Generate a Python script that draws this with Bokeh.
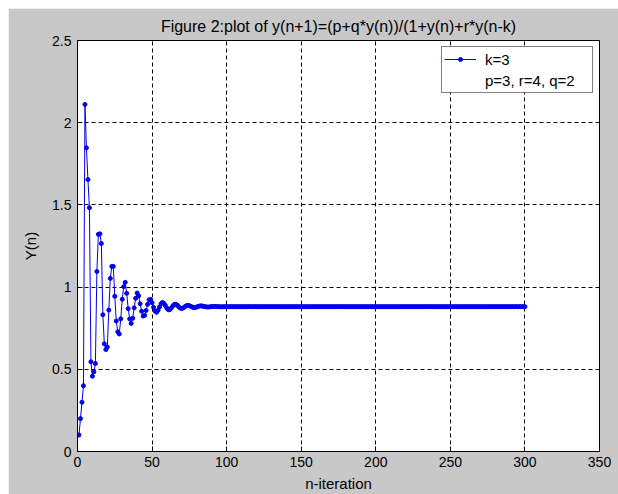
from bokeh.plotting import figure
from bokeh.models import Range1d, Legend, LegendItem, NumeralTickFormatter, ColumnDataSource
from bokeh.embed import file_html
from bokeh.resources import INLINE

title_text = "Figure 2:plot of y(n+1)=(p+q*y(n))/(1+y(n)+r*y(n-k)"
x_ticks = [0, 50, 100, 150, 200, 250, 300, 350]
y_ticks = [0, 0.5, 1, 1.5, 2, 2.5]
legend_labels = ["k=3", "p=3, r=4, q=2"]

n_iter = list(range(1, 301))
y_head = [
    0.100, 0.200, 0.300, 0.400, 2.111, 1.847, 1.654, 1.483, 0.546, 0.458,
    0.485, 0.535, 1.095, 1.321, 1.324, 1.265, 0.832, 0.655, 0.620, 0.635,
    0.860, 1.053, 1.126, 1.126, 0.944, 0.794, 0.728, 0.715, 0.807, 0.926,
    1.003, 1.029, 0.962, 0.869, 0.806, 0.779, 0.810, 0.874, 0.932, 0.964,
    0.947, 0.899, 0.853, 0.824, 0.828, 0.858, 0.895, 0.923, 0.925, 0.905,
    0.877, 0.854, 0.847, 0.859, 0.879, 0.899, 0.907, 0.901, 0.887, 0.871,
    0.862, 0.864, 0.874, 0.886, 0.895, 0.895, 0.889, 0.879, 0.872, 0.870,
    0.874, 0.881, 0.887, 0.889, 0.887, 0.883, 0.878, 0.875, 0.876, 0.879,
    0.883, 0.885, 0.886, 0.884, 0.882, 0.880, 0.879, 0.879, 0.880, 0.882,
    0.882, 0.882, 0.882, 0.881, 0.881, 0.880, 0.880, 0.881, 0.881, 0.881,
]
y_tail = [
    0.881, 0.881, 0.881, 0.881, 0.881, 0.881, 0.881, 0.881, 0.881, 0.881,
    0.881, 0.881, 0.881, 0.881, 0.881, 0.881, 0.881, 0.881, 0.881, 0.881,
    0.881, 0.881, 0.881, 0.881, 0.881, 0.881, 0.881, 0.881, 0.881, 0.881,
    0.881, 0.881, 0.881, 0.881, 0.881, 0.881, 0.881, 0.881, 0.881, 0.881,
    0.881, 0.881, 0.881, 0.881, 0.881, 0.881, 0.881, 0.881, 0.881, 0.881,
    0.881, 0.881, 0.881, 0.881, 0.881, 0.881, 0.881, 0.881, 0.881, 0.881,
    0.881, 0.881, 0.881, 0.881, 0.881, 0.881, 0.881, 0.881, 0.881, 0.881,
    0.881, 0.881, 0.881, 0.881, 0.881, 0.881, 0.881, 0.881, 0.881, 0.881,
    0.881, 0.881, 0.881, 0.881, 0.881, 0.881, 0.881, 0.881, 0.881, 0.881,
    0.881, 0.881, 0.881, 0.881, 0.881, 0.881, 0.881, 0.881, 0.881, 0.881,
    0.881, 0.881, 0.881, 0.881, 0.881, 0.881, 0.881, 0.881, 0.881, 0.881,
    0.881, 0.881, 0.881, 0.881, 0.881, 0.881, 0.881, 0.881, 0.881, 0.881,
    0.881, 0.881, 0.881, 0.881, 0.881, 0.881, 0.881, 0.881, 0.881, 0.881,
    0.881, 0.881, 0.881, 0.881, 0.881, 0.881, 0.881, 0.881, 0.881, 0.881,
    0.881, 0.881, 0.881, 0.881, 0.881, 0.881, 0.881, 0.881, 0.881, 0.881,
    0.881, 0.881, 0.881, 0.881, 0.881, 0.881, 0.881, 0.881, 0.881, 0.881,
    0.881, 0.881, 0.881, 0.881, 0.881, 0.881, 0.881, 0.881, 0.881, 0.881,
    0.881, 0.881, 0.881, 0.881, 0.881, 0.881, 0.881, 0.881, 0.881, 0.881,
    0.881, 0.881, 0.881, 0.881, 0.881, 0.881, 0.881, 0.881, 0.881, 0.881,
    0.881, 0.881, 0.881, 0.881, 0.881, 0.881, 0.881, 0.881, 0.881, 0.881,
]
y_vals = y_head + y_tail

FONT = "Liberation Sans"
BLUE = "#0000f0"

src = ColumnDataSource(data=dict(x=n_iter, y=y_vals))

p = figure(width=610, height=486,
           x_range=Range1d(x_ticks[0], x_ticks[-1]),
           y_range=Range1d(y_ticks[0], y_ticks[-1]),
           output_backend="svg", toolbar_location=None,
           title=title_text,
           background_fill_color="white", border_fill_color="#c8c8c8",
           min_border_left=69, min_border_right=19,
           min_border_top=32, min_border_bottom=43)
p.margin = (8, 0, 0, 8)

p.title.align = "center"
p.title.text_font = FONT
p.title.text_font_size = "16px"
p.title.text_font_style = "normal"
p.title.text_color = "black"
p.title.standoff = 12

p.outline_line_color = "black"
p.outline_line_width = 1
p.outline_line_alpha = 1

p.xaxis.ticker = x_ticks
p.yaxis.ticker = y_ticks
p.yaxis.formatter = NumeralTickFormatter(format="0.[0]")
p.xaxis.axis_label = "n-iteration"
p.yaxis.axis_label = "Y(n)"
for ax in (p.xaxis, p.yaxis):
    ax.major_tick_in = 5
    ax.major_tick_out = 0
    ax.minor_tick_in = 0
    ax.minor_tick_out = 0
    ax.axis_line_color = "black"
    ax.major_tick_line_color = "black"
    ax.major_label_text_font = FONT
    ax.major_label_text_font_size = "14px"
    ax.major_label_text_color = "black"
    ax.axis_label_text_font = FONT
    ax.axis_label_text_font_size = "15px"
    ax.axis_label_text_font_style = "normal"
    ax.axis_label_text_color = "black"
p.xaxis.major_label_standoff = 5
p.xaxis.axis_label_standoff = 5
p.yaxis.major_label_standoff = 6
p.yaxis.axis_label_standoff = 10

p.grid.grid_line_color = "black"
p.grid.grid_line_alpha = 1
p.grid.grid_line_width = 1
p.grid.grid_line_dash = "4 3"

r_line = p.line("x", "y", source=src, line_color=BLUE, line_width=1)
r_pts = p.scatter("x", "y", source=src, marker="circle", size=4,
                  fill_color=BLUE, line_color=BLUE)
dummy = p.line(x=[], y=[], line_alpha=0)

legend = Legend(items=[LegendItem(label=legend_labels[0], renderers=[r_line, r_pts]),
                       LegendItem(label=legend_labels[1], renderers=[dummy])],
                location="top_right", margin=6, padding=2, spacing=1,
                glyph_width=32, glyph_height=10, label_height=20,
                label_standoff=9, label_width=105,
                border_line_color="black", border_line_width=1,
                background_fill_color="white", background_fill_alpha=1,
                label_text_font=FONT, label_text_font_size="15px",
                label_text_color="black")
p.add_layout(legend)

open("out.html", "w").write(file_html(p, INLINE))
